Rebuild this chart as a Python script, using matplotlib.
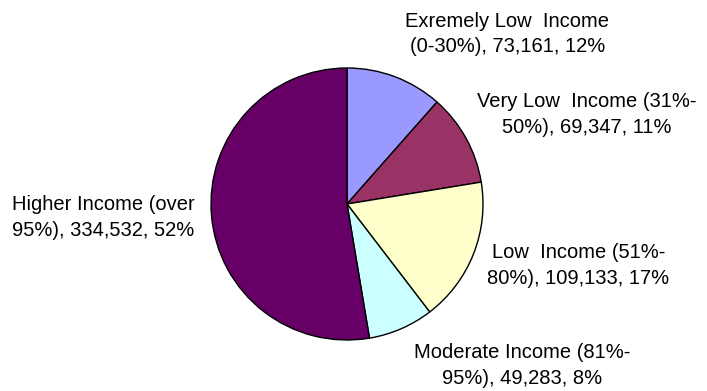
import matplotlib
matplotlib.use("Agg")
import matplotlib.pyplot as plt

plt.rcParams['font.family'] = ['Liberation Sans', 'DejaVu Sans']

categories = [
    "Exremely Low  Income\n(0-30%)",
    "Very Low  Income (31%-\n50%)",
    "Low  Income (51%-\n80%)",
    "Moderate Income (81%-\n95%)",
    "Higher Income (over\n95%)",
]
values = [73161, 69347, 109133, 49283, 334532]
percents = [12, 11, 17, 8, 52]
colors = ["#9999FF", "#993366", "#FFFFCC", "#CCFFFF", "#660066"]

# label centres in pie-radius units (pie centred at 0,0, radius 1)
label_pos = [(1.18, 1.25), (1.76, 0.66), (1.70, -0.45), (1.29, -1.19), (-1.79, -0.10)]

fig = plt.figure(figsize=(7.07, 3.91), dpi=100, facecolor="white")
ax = fig.add_axes([0, 0, 1, 1])
ax.pie(values, colors=colors, startangle=90, counterclock=False,
       wedgeprops=dict(edgecolor="black", linewidth=1.0))

for cat, v, p, (x, y) in zip(categories, values, percents, label_pos):
    ax.text(x, y, f"{cat}, {v:,}, {p}%", ha="center", va="center",
            multialignment="center", fontsize=14.5, linespacing=1.45)

ax.set_aspect("auto")
ax.set_xlim(-347 / 136, (707 - 347) / 136)
ax.set_ylim((204 - 391) / 136, 204 / 136)
ax.axis("off")

fig.savefig("out.png", dpi=100, facecolor="white")
